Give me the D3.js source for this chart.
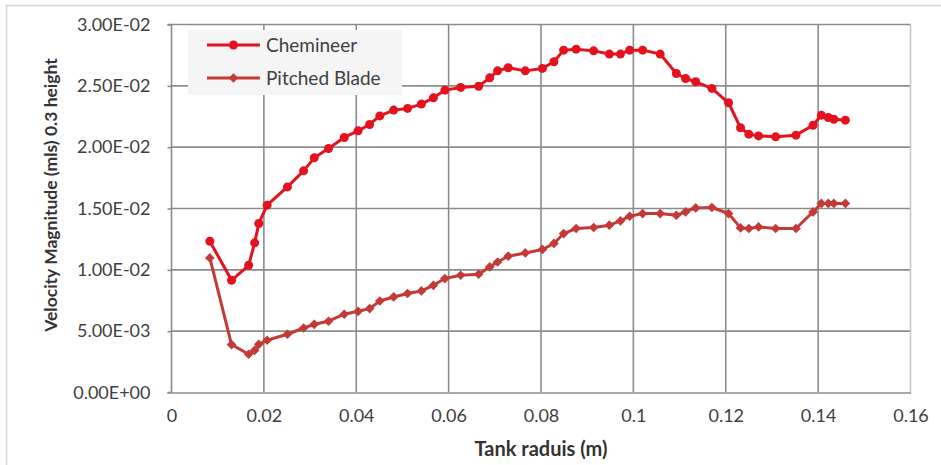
<!DOCTYPE html>
<html>
<head>
<meta charset="utf-8">
<script src="https://cdn.jsdelivr.net/npm/d3@7"></script>
<style>
  html, body { margin: 0; padding: 0; background: #fff; }
  svg { display: block; font-family: Lato, "Open Sans", sans-serif; }
</style>
</head>
<body>
<svg id="chart" width="941" height="465"></svg>
<script>
// ---- Data ----
const radius = [0.0083, 0.0130, 0.0167, 0.0180, 0.0189, 0.0207, 0.0251, 0.0286, 0.0309, 0.0340,
  0.0374, 0.0404, 0.0429, 0.0451, 0.0481, 0.0511, 0.0541, 0.0567, 0.0592, 0.0626,
  0.0665, 0.0689, 0.0706, 0.0729, 0.0766, 0.0803, 0.0828, 0.0849, 0.0876, 0.0914,
  0.0948, 0.0972, 0.0992, 0.1020, 0.1058, 0.1093, 0.1113, 0.1135, 0.1170, 0.1206,
  0.1232, 0.1250, 0.1271, 0.1308, 0.1352, 0.1389, 0.1407, 0.1422, 0.1434, 0.1459];

const chemineer = [0.01233, 0.00915, 0.01037, 0.01220, 0.01378, 0.01527, 0.01676, 0.01807, 0.01913, 0.01989,
  0.02079, 0.02133, 0.02185, 0.02255, 0.02302, 0.02316, 0.02351, 0.02402, 0.02465, 0.02487,
  0.02497, 0.02565, 0.02622, 0.02647, 0.02622, 0.02642, 0.02696, 0.02791, 0.02799, 0.02785,
  0.02759, 0.02759, 0.02791, 0.02791, 0.02759, 0.02601, 0.02560, 0.02533, 0.02479, 0.02362,
  0.02158, 0.02106, 0.02092, 0.02084, 0.02098, 0.02179, 0.02261, 0.02242, 0.02228, 0.02220];

const pitchedBlade = [0.01097, 0.00391, 0.00312, 0.00344, 0.00393, 0.00426, 0.00475, 0.00526, 0.00556, 0.00581,
  0.00638, 0.00662, 0.00684, 0.00746, 0.00779, 0.00807, 0.00828, 0.00874, 0.00929, 0.00956,
  0.00964, 0.01024, 0.01064, 0.01111, 0.01138, 0.01166, 0.01215, 0.01296, 0.01337, 0.01345,
  0.01364, 0.01399, 0.01437, 0.01459, 0.01459, 0.01445, 0.01472, 0.01505, 0.01508, 0.01459,
  0.01342, 0.01337, 0.01350, 0.01337, 0.01337, 0.01472, 0.01541, 0.01541, 0.01541, 0.01541];

const xTicks = [0, 0.02, 0.04, 0.06, 0.08, 0.1, 0.12, 0.14, 0.16];
const yTicks = [0, 0.005, 0.01, 0.015, 0.02, 0.025, 0.03];
const seriesNames = ["Chemineer", "Pitched Blade"];
const seriesColors = ["#e5121d", "#c33a37"];
const xTitle = "Tank raduis (m)";
const yTitle = "Velocity Magnitude  (mls) 0.3 height";

// ---- Layout ----
const svg = d3.select("#chart");
const plot = { left: 171.5, right: 910.5, top: 24.5, bottom: 392.5 };

const x = d3.scaleLinear().domain([0, 0.16]).range([plot.left, plot.right]);
const y = d3.scaleLinear().domain([0, 0.03]).range([plot.bottom, plot.top]);

// outer border
svg.append("rect").attr("x", 6.5).attr("y", 5.5).attr("width", 960).attr("height", 480)
  .attr("fill", "none").attr("stroke", "#d4d4d4").attr("stroke-width", 1.5);

function fmtExp(v) {
  if (v === 0) return "0.00E+00";
  const s = v.toExponential(2).toUpperCase(); // e.g. 3.00E-2
  const m = s.match(/^(.*)E([+-])(\d+)$/);
  return m[1] + "E" + m[2] + m[3].padStart(2, "0");
}

// gridlines
const grid = svg.append("g");
grid.selectAll("line.h").data(yTicks.filter(d => d > 0)).join("line")
  .attr("x1", plot.left).attr("x2", plot.right)
  .attr("y1", d => y(d)).attr("y2", d => y(d))
  .attr("stroke", "#8c8c8c").attr("stroke-width", 1.6);
grid.selectAll("line.v").data(xTicks.filter(d => d > 0 && d < 0.16)).join("line")
  .attr("x1", d => x(d)).attr("x2", d => x(d))
  .attr("y1", plot.top).attr("y2", plot.bottom)
  .attr("stroke", "#8c8c8c").attr("stroke-width", 1.6);
// right edge lighter
svg.append("line").attr("x1", plot.right).attr("x2", plot.right)
  .attr("y1", plot.top).attr("y2", plot.bottom)
  .attr("stroke", "#c8c8c8").attr("stroke-width", 1.6);

// axes
const yAxis = svg.append("g").attr("transform", `translate(${plot.left},0)`)
  .call(d3.axisLeft(y).tickValues(yTicks).tickFormat(fmtExp).tickSize(4).tickPadding(17));
const xAxis = svg.append("g").attr("transform", `translate(0,${plot.bottom})`)
  .call(d3.axisBottom(x).tickValues(xTicks).tickFormat(d => d3.format("")(+d.toFixed(2))).tickSize(0).tickPadding(17));
[yAxis, xAxis].forEach(a => {
  a.select(".domain").attr("stroke", "#8c8c8c").attr("stroke-width", 1.6);
  a.selectAll(".tick line").attr("stroke", "#8c8c8c").attr("stroke-width", 1.6);
  a.selectAll(".tick text").attr("fill", "#404040").style("font-size", "18px")
    .style("font-family", "Lato, sans-serif");
});
yAxis.select(".domain").attr("d", `M-4,${plot.bottom}H0V${plot.top}H-4`);

// series
const line = d3.line().x(d => x(d[0])).y(d => y(d[1]));
const chemData = radius.map((r, i) => [r, chemineer[i]]);
const pbData = radius.map((r, i) => [r, pitchedBlade[i]]);

svg.append("path").datum(pbData).attr("d", line).attr("fill", "none")
  .attr("stroke", seriesColors[1]).attr("stroke-width", 3).attr("stroke-linejoin", "round");
svg.append("g").selectAll("path").data(pbData).join("path")
  .attr("d", d3.symbol(d3.symbolDiamond2, 60)())
  .attr("transform", d => `translate(${x(d[0])},${y(d[1])})`)
  .attr("fill", seriesColors[1]);

svg.append("path").datum(chemData).attr("d", line).attr("fill", "none")
  .attr("stroke", seriesColors[0]).attr("stroke-width", 3).attr("stroke-linejoin", "round");
svg.append("g").selectAll("circle").data(chemData).join("circle")
  .attr("cx", d => x(d[0])).attr("cy", d => y(d[1])).attr("r", 4.5)
  .attr("fill", seriesColors[0]);

// legend
const lg = svg.append("g");
lg.append("rect").attr("x", 188).attr("y", 30).attr("width", 214).attr("height", 65)
  .attr("fill", "#f5f5f5");
seriesNames.forEach((name, i) => {
  const cy = 45 + i * 33;
  lg.append("line").attr("x1", 207).attr("x2", 260).attr("y1", cy).attr("y2", cy)
    .attr("stroke", seriesColors[i]).attr("stroke-width", 3);
  if (i === 0) {
    lg.append("circle").attr("cx", 233.5).attr("cy", cy).attr("r", 4.5).attr("fill", seriesColors[i]);
  } else {
    lg.append("path").attr("d", d3.symbol(d3.symbolDiamond2, 60)())
      .attr("transform", `translate(233.5,${cy})`).attr("fill", seriesColors[i]);
  }
  lg.append("text").attr("x", 266).attr("y", cy).attr("dy", "0.35em")
    .attr("fill", "#404040").style("font-size", "19px").text(name);
});

// titles
svg.append("text").attr("x", x(0.08)).attr("y", 456).attr("text-anchor", "middle")
  .attr("fill", "#333").style("font-size", "20px").style("font-weight", "bold").text(xTitle);
svg.append("text").attr("transform", `translate(57,195) rotate(-90)`).attr("text-anchor", "middle")
  .attr("fill", "#333").style("font-size", "17.5px").style("font-weight", "bold").text(yTitle);
</script>
</body>
</html>
